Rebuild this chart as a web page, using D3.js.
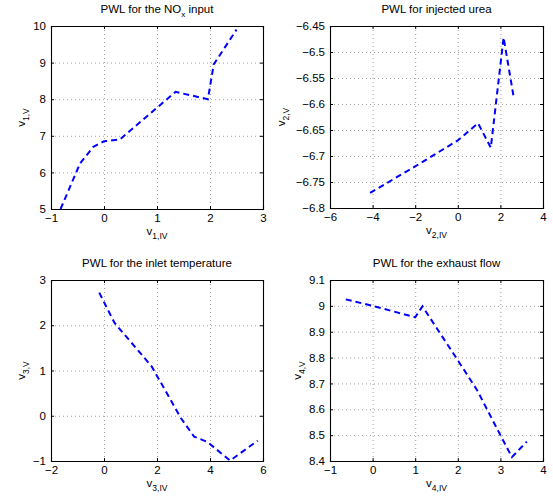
<!DOCTYPE html>
<html>
<head>
<meta charset="utf-8">
<script src="https://cdn.jsdelivr.net/npm/d3@7"></script>
<style>
  body { margin: 0; background: #fff; }
  svg text { font-family: "Liberation Sans", Arial, sans-serif; fill: #000; }
</style>
</head>
<body>
<article></article>
<script>
const m = {
    width: 553,
    height: 498
}

// PWL breakpoints
const noxX = [-0.82, -0.45, -0.2, 0, 0.3, 1.35, 1.96, 2.07, 2.5]
const noxY = [5.0, 6.25, 6.7, 6.85, 6.9, 8.2, 8.0, 8.95, 9.9]

const ureaX = [-4.12, -2, 0, 0.95, 1.55, 2.15, 2.62]
const ureaY = [-6.771, -6.72, -6.67, -6.637, -6.684, -6.472, -6.586]

const tempX = [-0.18, 0.4, 1.8, 2.9, 3.4, 3.9, 4.76, 5.8]
const tempY = [2.72, 2.05, 1.09, -0.05, -0.46, -0.58, -0.99, -0.55]

const flowX = [-0.63, 0, 1.0, 1.17, 1.9, 2.45, 3.0, 3.27, 3.62]
const flowY = [9.025, 9.0, 8.956, 8.998, 8.815, 8.675, 8.5, 8.415, 8.475]

// tick labels
const noxXTicks = [-1, 0, 1, 2, 3]
const noxYTicks = [5, 6, 7, 8, 9, 10]
const ureaXTicks = [-6, -4, -2, 0, 2, 4]
const ureaYTicks = [-6.8, -6.75, -6.7, -6.65, -6.6, -6.55, -6.5, -6.45]
const tempXTicks = [-2, 0, 2, 4, 6]
const tempYTicks = [-1, 0, 1, 2, 3]
const flowXTicks = [-1, 0, 1, 2, 3, 4]
const flowYTicks = [8.4, 8.5, 8.6, 8.7, 8.8, 8.9, 9, 9.1]

const panels = [
    { title: ['PWL for the NO', 'x', ' input'], n: 1, xs: noxX, ys: noxY, xt: noxXTicks, yt: noxYTicks,
      box: [51, 263, 26, 209], ylOff: 26 },
    { title: ['PWL for injected urea'], n: 2, xs: ureaX, ys: ureaY, xt: ureaXTicks, yt: ureaYTicks,
      box: [330, 543, 26, 208], ylOff: 45 },
    { title: ['PWL for the inlet temperature'], n: 3, xs: tempX, ys: tempY, xt: tempXTicks, yt: tempYTicks,
      box: [51, 263, 280, 461], ylOff: 26 },
    { title: ['PWL for the exhaust flow'], n: 4, xs: flowX, ys: flowY, xt: flowXTicks, yt: flowYTicks,
      box: [330, 543, 280, 461], ylOff: 29 }
]

const fmt = v => {
    let s = String(+v.toFixed(2))
    return s.replace('-', '\u2212')
}

const svg = d3.select('article').append('svg')
    .attr('width', m.width)
    .attr('height', m.height)

panels.forEach(function (p) {
    const [x0, x1, y0, y1] = p.box
    const x = d3.scaleLinear()
        .domain([p.xt[0], p.xt[p.xt.length - 1]])
        .range([x0, x1])
    const y = d3.scaleLinear()
        .domain([p.yt[0], p.yt[p.yt.length - 1]])
        .range([y1, y0])

    const g = svg.append('g')

    // dotted grid
    g.selectAll('.gx')
        .data(p.xt.slice(1, -1))
        .enter()
        .append('line')
        .attr('x1', d => x(d) + 0.5)
        .attr('x2', d => x(d) + 0.5)
        .attr('y1', y0)
        .attr('y2', y1)
        .attr('stroke', '#888')
        .attr('stroke-width', 0.8)
        .attr('stroke-dasharray', '1,3')

    g.selectAll('.gy')
        .data(p.yt.slice(1, -1))
        .enter()
        .append('line')
        .attr('y1', d => y(d) + 0.5)
        .attr('y2', d => y(d) + 0.5)
        .attr('x1', x0)
        .attr('x2', x1)
        .attr('stroke', '#888')
        .attr('stroke-width', 0.8)
        .attr('stroke-dasharray', '1,3')

    // axes: ticks inside on all four sides
    const tick = 3
    g.append('g')
        .attr('transform', `translate(0,${y1})`)
        .call(d3.axisBottom(x).tickValues(p.xt).tickSize(-tick).tickPadding(5).tickFormat(fmt))
    g.append('g')
        .attr('transform', `translate(0,${y0})`)
        .call(d3.axisTop(x).tickValues(p.xt).tickSize(-tick).tickFormat(''))
    g.append('g')
        .attr('transform', `translate(${x0},0)`)
        .call(d3.axisLeft(y).tickValues(p.yt).tickSize(-tick).tickPadding(5).tickFormat(fmt))
    g.append('g')
        .attr('transform', `translate(${x1},0)`)
        .call(d3.axisRight(y).tickValues(p.yt).tickSize(-tick).tickFormat(''))

    g.selectAll('.domain').attr('stroke', '#000').attr('stroke-width', 1.1)
    g.selectAll('.tick line').attr('stroke', '#000')
    g.selectAll('.tick text')
        .style('font-size', '11.5px')
        .style('font-family', '"Liberation Sans", Arial, sans-serif')
        .attr('fill', '#000')

    // the PWL curve
    const pts = p.xs.map((v, i) => [v, p.ys[i]])
    const line = d3.line()
        .x(d => x(d[0]))
        .y(d => y(d[1]))
    g.append('path')
        .datum(pts)
        .attr('d', line)
        .attr('fill', 'none')
        .attr('stroke', '#0000ff')
        .attr('stroke-width', 2)
        .attr('stroke-dasharray', '6,4')

    // title
    const t = g.append('text')
        .attr('x', (x0 + x1) / 2)
        .attr('y', y0 - 13)
        .attr('text-anchor', 'middle')
        .style('font-size', '11.5px')
    t.append('tspan').text(p.title[0])
    if (p.title.length > 1) {
        t.append('tspan').text(p.title[1]).attr('dy', 3.5).style('font-size', '8px')
        t.append('tspan').text(p.title[2]).attr('dy', -3.5)
    }

    // x label
    const xl = g.append('text')
        .attr('x', (x0 + x1) / 2)
        .attr('y', y1 + 26)
        .attr('text-anchor', 'middle')
        .style('font-size', '11.5px')
    xl.append('tspan').text('v')
    xl.append('tspan').text(p.n + ',IV').attr('dy', 3.5).style('font-size', '8.5px')

    // y label
    const yl = g.append('text')
        .attr('transform', `translate(${x0 - p.ylOff},${(y0 + y1) / 2}) rotate(-90)`)
        .attr('text-anchor', 'middle')
        .style('font-size', '11.5px')
    yl.append('tspan').text('v')
    yl.append('tspan').text(p.n + ',V').attr('dy', 3.5).style('font-size', '8.5px')
})
</script>
</body>
</html>
